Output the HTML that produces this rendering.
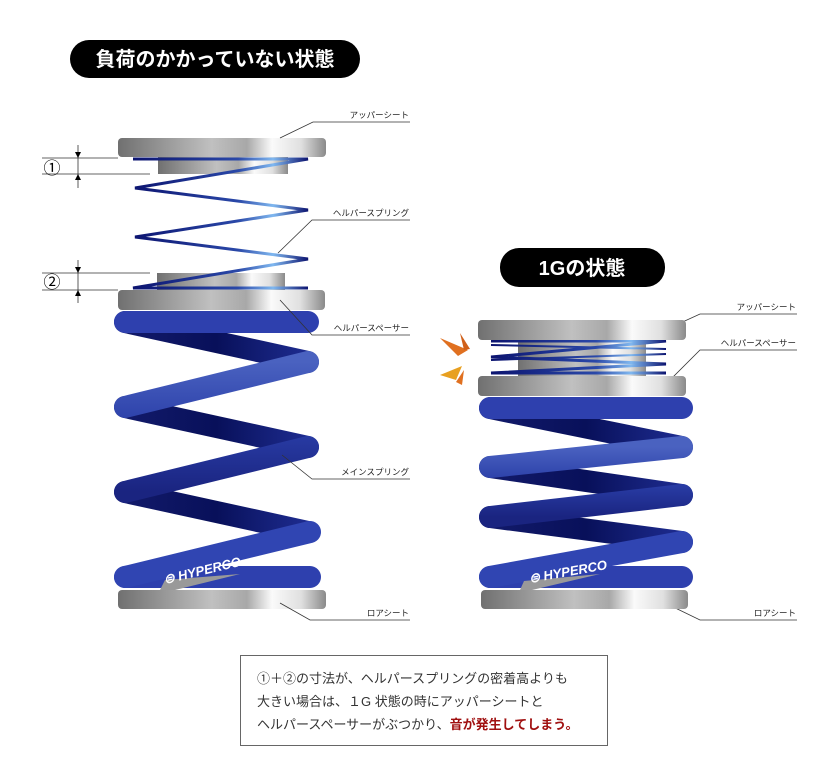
<!DOCTYPE html>
<html><head><meta charset="utf-8">
<style>
body{margin:0;background:#fff;}
svg{display:block;font-family:"Liberation Sans","Noto Sans CJK JP",sans-serif;}
</style></head>
<body>
<svg width="840" height="777" viewBox="0 0 840 777" xmlns="http://www.w3.org/2000/svg">
<defs>
<linearGradient id="metal" x1="0" x2="1" y1="0" y2="0">
<stop offset="0" stop-color="#707070"/><stop offset="0.45" stop-color="#c0c0c0"/><stop offset="0.62" stop-color="#a8a8a8"/><stop offset="0.74" stop-color="#fafafa"/><stop offset="0.88" stop-color="#e0e0e0"/><stop offset="1" stop-color="#8a8a8a"/>
</linearGradient>
<linearGradient id="front" x1="0" x2="0" y1="0" y2="1">
<stop offset="0" stop-color="#4a62c0"/><stop offset="0.5" stop-color="#2a3ea8"/><stop offset="1" stop-color="#1a2480"/>
</linearGradient>
<linearGradient id="back" x1="0" x2="1" y1="0" y2="0">
<stop offset="0" stop-color="#121a6a"/><stop offset="0.5" stop-color="#08105a"/><stop offset="1" stop-color="#1e2c90"/>
</linearGradient>
<linearGradient id="thin" x1="0" x2="1" y1="0" y2="0">
<stop offset="0" stop-color="#0c1470"/><stop offset="0.6" stop-color="#2a48a8"/><stop offset="0.8" stop-color="#80b8f0"/><stop offset="1" stop-color="#0c1470"/>
</linearGradient>
</defs>

<!-- LEFT title -->
<rect x="70" y="40" width="290" height="38" rx="19" fill="#000"/>
<text x="215" y="66" fill="#fff" font-size="20" font-weight="bold" text-anchor="middle">負荷のかかっていない状態</text>

<!-- left main spring -->
<g stroke-linecap="round" fill="none" stroke-width="22">
<path d="M125 322 L308 362 M125 407 L308 447 M125 492 L308 532" stroke="url(#back)"/>
<path d="M125 322 L308 322" stroke="#2e40ae"/>
<path d="M125 407 L308 362 M125 492 L308 447" stroke="url(#front)"/>
<path d="M125 577 L310 577" stroke="#2e40ae"/>
<path d="M125 577 L310 532" stroke="#3045b2"/>
</g>
<path d="M160 590 L165 580 L240 574 L175 590Z" fill="#999"/>
<text transform="translate(165,584) rotate(-13.5)" fill="#fff" font-size="13" font-weight="bold" font-style="italic">⊜ HYPERCO</text>

<!-- left helper -->
<rect x="158" y="157" width="130" height="17" fill="url(#metal)"/>
<rect x="157" y="273" width="128" height="17" fill="url(#metal)"/>
<path d="M133 159 L308 159 L135 188 L308 210 L135 237 L308 259 L133 288 L308 288" stroke="url(#thin)" stroke-width="3" fill="none"/>
<rect x="118" y="138" width="208" height="19" rx="4" fill="url(#metal)"/>
<rect x="118" y="290" width="207" height="20" rx="4" fill="url(#metal)"/>
<rect x="118" y="590" width="208" height="19" rx="4" fill="url(#metal)"/>

<!-- dimensions -->
<g stroke="#333" stroke-width="0.8" fill="none">
<path d="M42 158 L118 158 M42 174 L150 174 M78 145 L78 188 M42 273 L150 273 M42 290 L118 290 M78 260 L78 303"/>
</g>
<g fill="#000">
<path d="M75 152 L81 152 L78 158Z M75 180 L81 180 L78 174Z M75 267 L81 267 L78 273Z M75 296 L81 296 L78 290Z"/>
</g>
<text x="52" y="174" font-size="17" text-anchor="middle">①</text>
<text x="52" y="288" font-size="17" text-anchor="middle">②</text>

<!-- leaders -->
<g stroke="#333" stroke-width="0.8" fill="none">
<path d="M280 138 L313 122 L410 122"/>
<path d="M278 253 L312 220 L410 220"/>
<path d="M280 300 L312 335 L410 335"/>
<path d="M282 455 L312 479 L410 479"/>
<path d="M280 603 L310 620 L410 620"/>
<path d="M665 330 L700 314 L797 314"/>
<path d="M665 385 L700 350 L797 350"/>
<path d="M665 603 L700 620 L797 620"/>
</g>
<g font-size="8.5" fill="#222" text-anchor="end">
<text x="409" y="118">アッパーシート</text>
<text x="409" y="216">ヘルパースプリング</text>
<text x="409" y="331">ヘルパースペーサー</text>
<text x="409" y="475">メインスプリング</text>
<text x="409" y="616">ロアシート</text>
<text x="796" y="310">アッパーシート</text>
<text x="796" y="346">ヘルパースペーサー</text>
<text x="796" y="616">ロアシート</text>
</g>

<!-- RIGHT title -->
<rect x="500" y="248" width="165" height="39" rx="19" fill="#000"/>
<text x="582" y="275" fill="#fff" font-size="20" font-weight="bold" text-anchor="middle">1Gの状態</text>

<!-- right main spring -->
<g stroke-linecap="round" fill="none" stroke-width="22">
<path d="M490 408 L682 447 M490 467 L682 495 M490 517 L682 542" stroke="url(#back)"/>
<path d="M490 408 L682 408" stroke="#2e40ae"/>
<path d="M490 467 L682 447 M490 517 L682 495" stroke="url(#front)"/>
<path d="M490 577 L682 577" stroke="#2e40ae"/>
<path d="M490 577 L682 542" stroke="#3045b2"/>
</g>
<path d="M520 590 L524 581 L600 574 L532 590Z" fill="#999"/>
<text transform="translate(530,583) rotate(-10.3)" fill="#fff" font-size="13" font-weight="bold" font-style="italic">⊜ HYPERCO</text>

<!-- right helper -->
<rect x="518" y="340" width="128" height="36" fill="url(#metal)"/>
<path d="M491 341 L666 341 L491 357 L666 364 L491 373 L666 373" stroke="url(#thin)" stroke-width="3" fill="none"/>
<path d="M491 345 L666 349 M491 360 L666 354" stroke="url(#thin)" stroke-width="2" fill="none"/>
<rect x="478" y="320" width="208" height="20" rx="4" fill="url(#metal)"/>
<rect x="478" y="376" width="208" height="20" rx="4" fill="url(#metal)"/>
<rect x="481" y="590" width="207" height="19" rx="4" fill="url(#metal)"/>

<!-- warning marks -->
<path d="M440 338 L468 350 L458 356Z" fill="#e07020"/>
<path d="M460 333 L470 349 L464 350Z" fill="#d0601a"/>
<path d="M440 375 L462 366 L456 380Z" fill="#e8a020"/>
<path d="M456 382 L464 370 L462 385Z" fill="#e07020"/>

<!-- note box -->
<rect x="240.5" y="655.5" width="367" height="90" fill="#fff" stroke="#666" stroke-width="1"/>
<g font-size="13" fill="#333">
<text x="257" y="683">①＋②の寸法が、ヘルパースプリングの密着高よりも</text>
<text x="257" y="706">大きい場合は、１G 状態の時にアッパーシートと</text>
<text x="257" y="729">ヘルパースペーサーがぶつかり、<tspan fill="#a01010" font-weight="bold">音が発生してしまう。</tspan></text>
</g>
</svg>
</body></html>
